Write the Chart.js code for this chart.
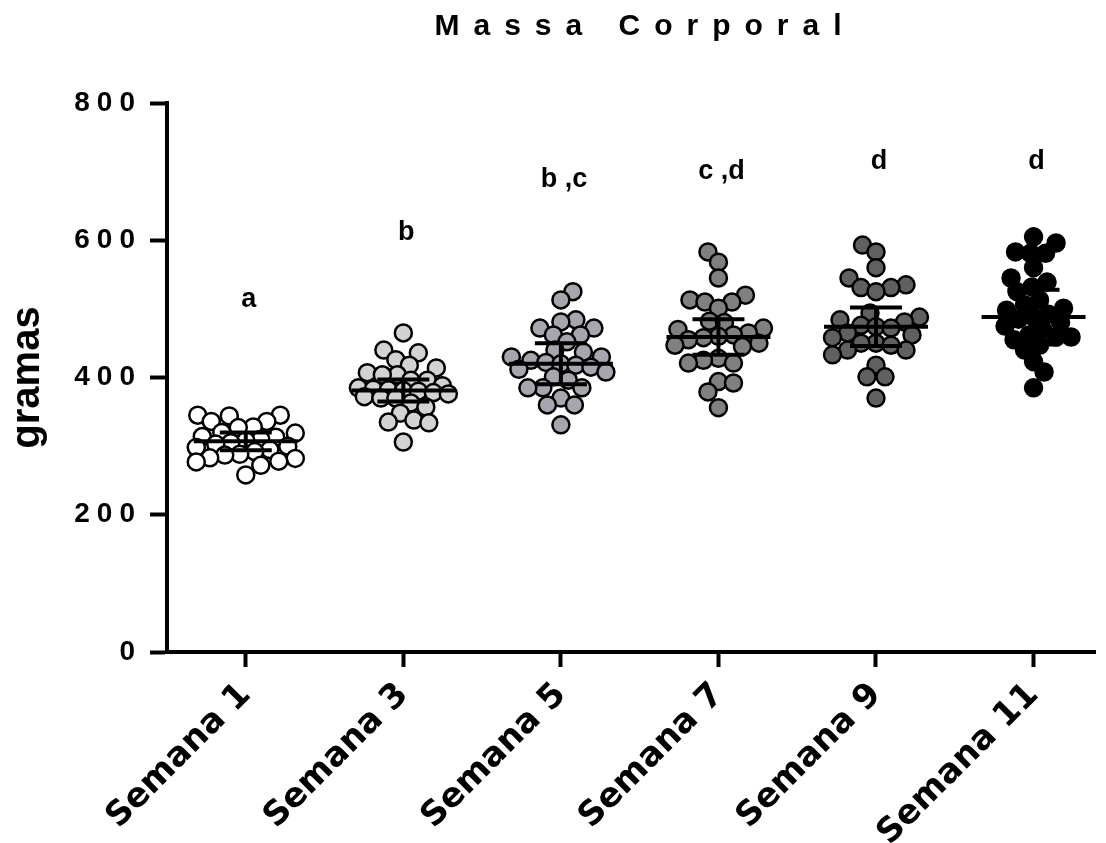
<!DOCTYPE html>
<html lang="pt">
<head>
  <meta charset="UTF-8">
  <title>Massa Corporal</title>
  <script src="https://cdn.jsdelivr.net/npm/chart.js"></script>
  <style>
    body {
      margin: 0;
      background: #fff;
    }
  </style>
</head>
<body>

<canvas id="massChart" width="1106" height="843"></canvas>

<script>
  // Data (grams)
  const weeks = ['Semana 1', 'Semana 3', 'Semana 5', 'Semana 7', 'Semana 9', 'Semana 11'];

  const sem1 = [345, 344, 345, 336, 336, 328, 327, 320, 319, 313, 314, 310, 308, 305, 303, 300, 298, 295, 292, 288, 287, 283, 282, 278, 277, 272, 258];
  const sem3 = [465, 440, 436, 426, 418, 414, 407, 404, 404, 396, 396, 388, 385, 383, 382, 381, 380, 378, 376, 372, 370, 370, 363, 357, 348, 338, 335, 334, 306];
  const sem5 = [525, 513, 484, 481, 472, 472, 462, 462, 452, 440, 437, 430, 430, 425, 422, 420, 418, 415, 412, 408, 401, 396, 385, 385, 385, 370, 360, 360, 331];
  const sem7 = [583, 568, 545, 520, 513, 510, 510, 501, 482, 480, 472, 470, 465, 462, 460, 458, 455, 450, 447, 445, 428, 425, 421, 421, 394, 392, 379, 356];
  const sem9 = [593, 583, 560, 545, 535, 531, 531, 525, 494, 488, 484, 481, 476, 474, 472, 465, 462, 458, 450, 450, 447, 440, 440, 433, 418, 401, 401, 370];
  const sem11 = [605, 596, 583, 581, 581, 560, 545, 539, 532, 525, 513, 506, 501, 498, 492, 488, 485, 480, 475, 470, 462, 459, 459, 455, 447, 440, 423, 408, 385];

  const groups = [sem1, sem3, sem5, sem7, sem9, sem11];
  const groupMeans = [307, 381, 420, 459, 474, 488];
  const groupErrors = [13, 16, 30, 26, 28, 40];

  const letters = ['a', 'b', 'b ,c', 'c ,d', 'd', 'd'];
  const letterLevels = [513, 611, 688, 700, 714, 714];

  const yTicks = [0, 200, 400, 600, 800];

  const fills = ['#ffffff', '#d3d3d3', '#a6a6ae', '#808080', '#606060', '#000000'];

  // mean line, error bars, letters, title, y tick labels
  const overlay = {
    id: 'overlay',
    afterDatasetsDraw(chart) {
      const ctx = chart.ctx;
      const xs = chart.scales.x, ys = chart.scales.y;
      ctx.save();
      ctx.strokeStyle = '#000';
      ctx.lineWidth = 4;
      groupMeans.forEach((m, i) => {
        const ym = ys.getPixelForValue(m);
        const yt = ys.getPixelForValue(m + groupErrors[i]);
        const yb = ys.getPixelForValue(m - groupErrors[i]);
        ctx.beginPath();
        ctx.moveTo(xs.getPixelForValue(i - 0.33), ym);
        ctx.lineTo(xs.getPixelForValue(i + 0.33), ym);
        ctx.moveTo(xs.getPixelForValue(i), yt);
        ctx.lineTo(xs.getPixelForValue(i), yb);
        ctx.moveTo(xs.getPixelForValue(i - 0.165), yt);
        ctx.lineTo(xs.getPixelForValue(i + 0.165), yt);
        ctx.moveTo(xs.getPixelForValue(i - 0.165), yb);
        ctx.lineTo(xs.getPixelForValue(i + 0.165), yb);
        ctx.stroke();
      });

      ctx.fillStyle = '#000';
      ctx.font = 'bold 27px "Liberation Sans", Arial, sans-serif';
      ctx.textAlign = 'center';
      ctx.textBaseline = 'middle';
      letters.forEach((t, i) => {
        ctx.fillText(t, xs.getPixelForValue(i) + 3, ys.getPixelForValue(letterLevels[i]));
      });
      ctx.restore();
    },
    afterDraw(chart) {
      const ctx = chart.ctx;
      const area = chart.chartArea;
      const ys = chart.scales.y;
      ctx.save();
      ctx.fillStyle = '#000';
      ctx.textBaseline = 'middle';

      // title
      ctx.font = 'bold 30px "Liberation Sans", Arial, sans-serif';
      ctx.letterSpacing = '14px';
      ctx.textAlign = 'center';
      ctx.fillText('Massa Corporal', 645, 27);

      // y tick labels
      ctx.font = 'bold 28px "Liberation Sans", Arial, sans-serif';
      ctx.letterSpacing = '7px';
      ctx.textAlign = 'right';
      ys.ticks.forEach(t => {
        ctx.fillText(String(t.value), area.left - 32 + 7, ys.getPixelForValue(t.value));
      });
      ctx.restore();
    }
  };

  const datasets = groups.map((vals, i) => ({
    label: weeks[i],
    data: vals.map(v => ({ x: i, y: v })),
    backgroundColor: fills[i],
    borderColor: '#000',
    borderWidth: 2.5,
    pointRadius: 8.5,
    pointHoverRadius: 8.5
  }));

  const chart = new Chart(document.getElementById('massChart'), {
    type: 'scatter',
    data: { datasets },
    options: {
      responsive: false,
      animation: false,
      events: [],
      layout: { padding: { top: 103, right: 0, left: 0, bottom: 0 } },
      plugins: {
        legend: { display: false },
        tooltip: { enabled: false }
      },
      scales: {
        x: {
          type: 'linear',
          min: -0.5,
          max: 5.39,
          afterBuildTicks: s => { s.ticks = weeks.map((w, i) => ({ value: i })); },
          afterFit: s => { s.height = 191; s.paddingLeft = 0; s.paddingRight = 0; },
          ticks: {
            callback: v => weeks[v],
            autoSkip: false,
            minRotation: 45,
            maxRotation: 45,
            padding: 8,
            color: '#000',
            font: { family: 'DejaVu Sans', weight: 'bold', size: 34 }
          },
          grid: { drawOnChartArea: false, drawTicks: true, tickLength: 15, tickWidth: 4, color: '#000' },
          border: { width: 4, color: '#000' }
        },
        y: {
          min: 0,
          max: 800,
          afterBuildTicks: s => { s.ticks = yTicks.map(v => ({ value: v })); },
          afterFit: s => { s.width = 167; },
          ticks: { display: false },
          grid: { drawOnChartArea: false, drawTicks: true, tickLength: 17, tickWidth: 4, color: '#000' },
          border: { width: 4, color: '#000' },
          title: {
            display: true,
            text: 'gramas',
            color: '#000',
            padding: { top: 4, bottom: 0 },
            font: { family: 'Liberation Sans', weight: 'bold', size: 40 }
          }
        }
      }
    },
    plugins: [overlay]
  });

  // spread the points sideways like a column scatter, centre first
  function spreadPoints() {
    const xs = chart.scales.x, ys = chart.scales.y;
    const unit = xs.getPixelForValue(1) - xs.getPixelForValue(0);
    const minDist = 14.5;
    const maxSpread = 50;
    groups.forEach((vals, g) => {
      const order = vals.map((v, i) => i)
        .sort((a, b) => Math.abs(vals[a] - groupMeans[g]) - Math.abs(vals[b] - groupMeans[g]));
      const placed = [];
      order.forEach((i, n) => {
        const py = ys.getPixelForValue(vals[i]);
        let dx = 0, best = -1, found = false;
        for (let k = 0; Math.ceil(k / 2) * 1.5 <= maxSpread; k++) {
          const mag = Math.ceil(k / 2) * 1.5;
          const sign = ((k % 2) === 1) === (n % 2 === 0) ? 1 : -1;
          const cand = sign * mag;
          let near = Infinity;
          placed.forEach(p => { near = Math.min(near, Math.hypot(cand - p.dx, py - p.py)); });
          if (near >= minDist) { dx = cand; found = true; break; }
          if (near > best) { best = near; dx = cand; }
        }
        placed.push({ dx, py });
        chart.data.datasets[g].data[i].x = g + dx / unit;
      });
    });
    chart.update('none');
  }
  spreadPoints();
</script>

</body>
</html>
